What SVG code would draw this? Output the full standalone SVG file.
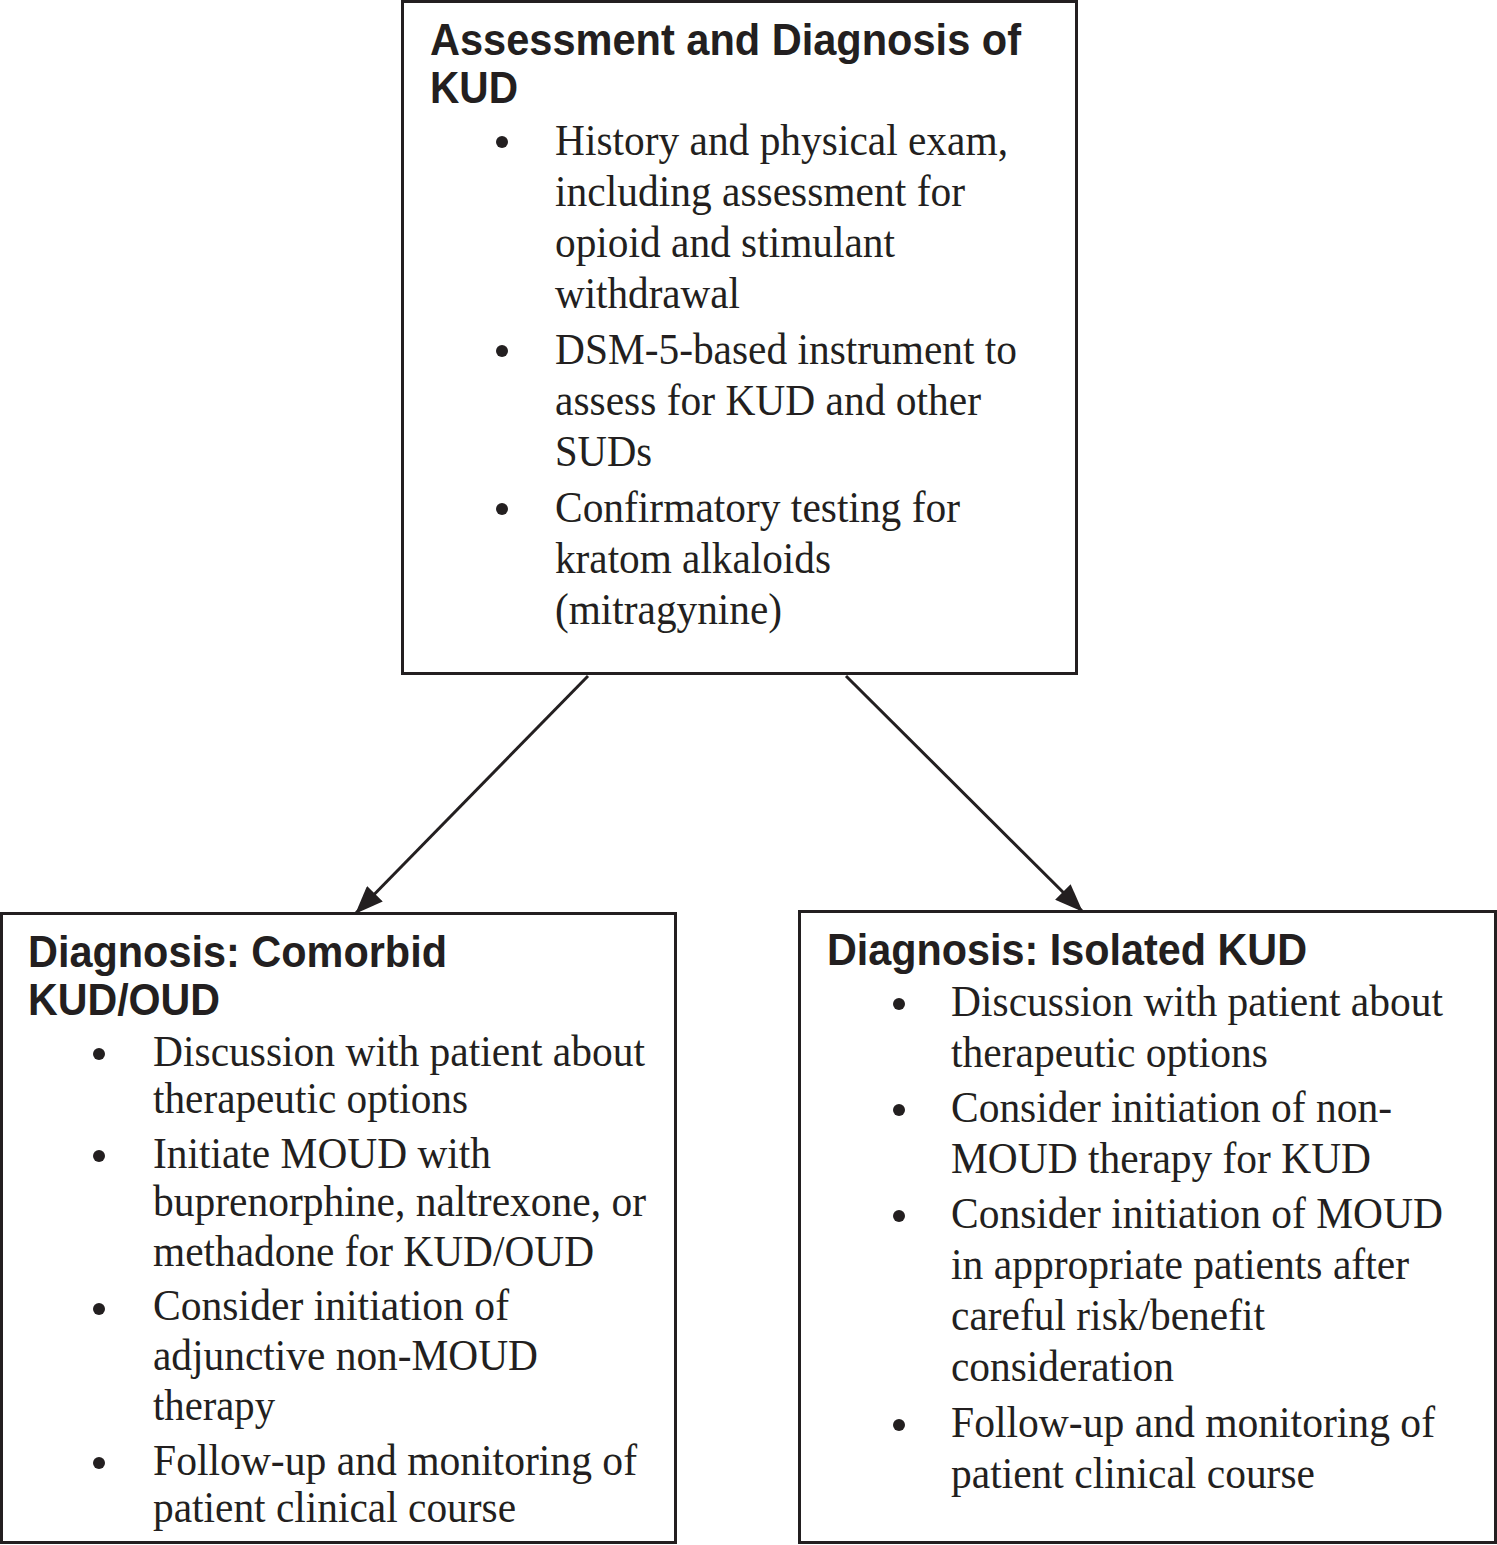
<svg xmlns="http://www.w3.org/2000/svg" width="1497" height="1545" viewBox="0 0 1497 1545">
<style>
.box{fill:#fff;stroke:#231f20;stroke-width:3}
.h{font-family:"Liberation Sans",Arial,sans-serif;font-weight:bold;font-size:44px;fill:#231f20}
.b{font-family:"Liberation Serif","Times New Roman",serif;font-size:44px;fill:#231f20}
.dot{fill:#231f20}
.edge{stroke:#231f20;stroke-width:3;fill:none}
</style>
<defs>
<marker id="arr" viewBox="0 0 28 22" refX="27" refY="11" markerWidth="28" markerHeight="22" markerUnits="userSpaceOnUse" orient="auto">
<path d="M0,0 L28,11 L0,22 z" fill="#231f20"/>
</marker>
</defs>
<rect width="1497" height="1545" fill="#fff"/>

<g id="node-assessment">
<rect class="box" x="402.5" y="1.5" width="674" height="672"/>
<text class="h" x="430" y="55" textLength="591" lengthAdjust="spacingAndGlyphs">Assessment and Diagnosis of</text>
<text class="h" x="430" y="103" textLength="88" lengthAdjust="spacingAndGlyphs">KUD</text>
<circle class="dot" cx="502" cy="142" r="6"/>
<text class="b" x="555" y="155" textLength="453" lengthAdjust="spacingAndGlyphs">History and physical exam,</text>
<text class="b" x="555" y="206" textLength="410" lengthAdjust="spacingAndGlyphs">including assessment for</text>
<text class="b" x="555" y="257" textLength="340" lengthAdjust="spacingAndGlyphs">opioid and stimulant</text>
<text class="b" x="555" y="308" textLength="185" lengthAdjust="spacingAndGlyphs">withdrawal</text>
<circle class="dot" cx="502" cy="351" r="6"/>
<text class="b" x="555" y="364" textLength="462" lengthAdjust="spacingAndGlyphs">DSM-5-based instrument to</text>
<text class="b" x="555" y="415" textLength="426" lengthAdjust="spacingAndGlyphs">assess for KUD and other</text>
<text class="b" x="555" y="466" textLength="97" lengthAdjust="spacingAndGlyphs">SUDs</text>
<circle class="dot" cx="502" cy="509" r="6"/>
<text class="b" x="555" y="522" textLength="405" lengthAdjust="spacingAndGlyphs">Confirmatory testing for</text>
<text class="b" x="555" y="573" textLength="276" lengthAdjust="spacingAndGlyphs">kratom alkaloids</text>
<text class="b" x="555" y="624" textLength="227" lengthAdjust="spacingAndGlyphs">(mitragynine)</text>
</g>

<g id="node-comorbid">
<rect class="box" x="1.5" y="913.5" width="674" height="629"/>
<text class="h" x="28" y="967" textLength="419" lengthAdjust="spacingAndGlyphs">Diagnosis: Comorbid</text>
<text class="h" x="28" y="1015" textLength="192" lengthAdjust="spacingAndGlyphs">KUD/OUD</text>
<circle class="dot" cx="99" cy="1054" r="6"/>
<text class="b" x="153" y="1066" textLength="492" lengthAdjust="spacingAndGlyphs">Discussion with patient about</text>
<text class="b" x="153" y="1113" textLength="315" lengthAdjust="spacingAndGlyphs">therapeutic options</text>
<circle class="dot" cx="99" cy="1156" r="6"/>
<text class="b" x="153" y="1168" textLength="338" lengthAdjust="spacingAndGlyphs">Initiate MOUD with</text>
<text class="b" x="153" y="1216" textLength="493" lengthAdjust="spacingAndGlyphs">buprenorphine, naltrexone, or</text>
<text class="b" x="153" y="1266" textLength="441" lengthAdjust="spacingAndGlyphs">methadone for KUD/OUD</text>
<circle class="dot" cx="99" cy="1309" r="6"/>
<text class="b" x="153" y="1320" textLength="356" lengthAdjust="spacingAndGlyphs">Consider initiation of</text>
<text class="b" x="153" y="1370" textLength="385" lengthAdjust="spacingAndGlyphs">adjunctive non-MOUD</text>
<text class="b" x="153" y="1420" textLength="122" lengthAdjust="spacingAndGlyphs">therapy</text>
<circle class="dot" cx="99" cy="1463" r="6"/>
<text class="b" x="153" y="1475" textLength="484" lengthAdjust="spacingAndGlyphs">Follow-up and monitoring of</text>
<text class="b" x="153" y="1522" textLength="363" lengthAdjust="spacingAndGlyphs">patient clinical course</text>
</g>

<g id="node-isolated">
<rect class="box" x="799.5" y="911.5" width="696" height="631"/>
<text class="h" x="827" y="965" textLength="480" lengthAdjust="spacingAndGlyphs">Diagnosis: Isolated KUD</text>
<circle class="dot" cx="899" cy="1004" r="6"/>
<text class="b" x="951" y="1016" textLength="492" lengthAdjust="spacingAndGlyphs">Discussion with patient about</text>
<text class="b" x="951" y="1067" textLength="317" lengthAdjust="spacingAndGlyphs">therapeutic options</text>
<circle class="dot" cx="899" cy="1110" r="6"/>
<text class="b" x="951" y="1122" textLength="441" lengthAdjust="spacingAndGlyphs">Consider initiation of non-</text>
<text class="b" x="951" y="1173" textLength="420" lengthAdjust="spacingAndGlyphs">MOUD therapy for KUD</text>
<circle class="dot" cx="899" cy="1216" r="6"/>
<text class="b" x="951" y="1228" textLength="492" lengthAdjust="spacingAndGlyphs">Consider initiation of MOUD</text>
<text class="b" x="951" y="1279" textLength="458" lengthAdjust="spacingAndGlyphs">in appropriate patients after</text>
<text class="b" x="951" y="1330" textLength="314" lengthAdjust="spacingAndGlyphs">careful risk/benefit</text>
<text class="b" x="951" y="1381" textLength="223" lengthAdjust="spacingAndGlyphs">consideration</text>
<circle class="dot" cx="899" cy="1425" r="6"/>
<text class="b" x="951" y="1437" textLength="484" lengthAdjust="spacingAndGlyphs">Follow-up and monitoring of</text>
<text class="b" x="951" y="1488" textLength="364" lengthAdjust="spacingAndGlyphs">patient clinical course</text>
</g>

<g id="connectors">
<line class="edge" x1="588" y1="676" x2="356" y2="913" marker-end="url(#arr)"/>
<line class="edge" x1="846" y1="676" x2="1082" y2="911" marker-end="url(#arr)"/>
</g>
</svg>
